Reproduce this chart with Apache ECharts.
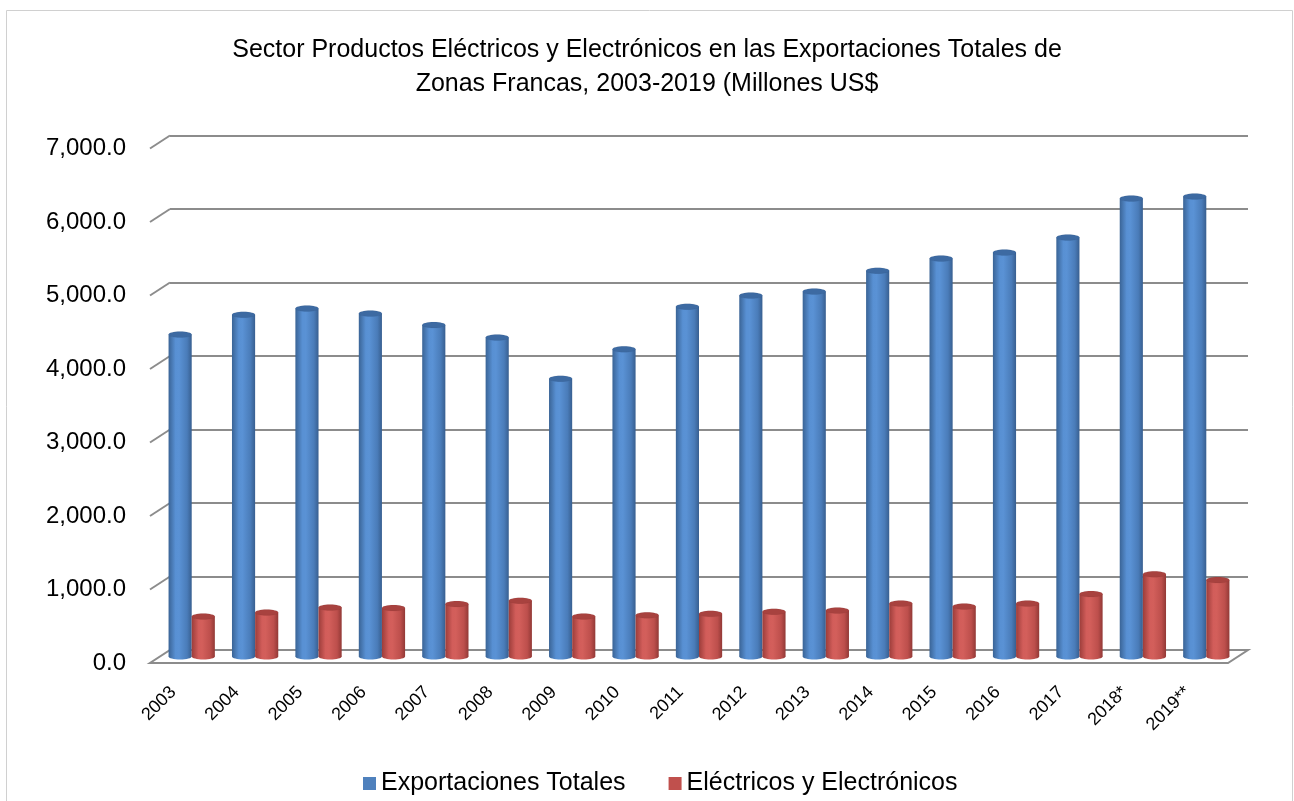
<!DOCTYPE html>
<html>
<head>
<meta charset="utf-8">
<script src="https://cdn.jsdelivr.net/npm/echarts@6/dist/echarts.min.js"></script>
<style>html,body{margin:0;padding:0;background:#fff;}#chart{width:1294px;height:801px;}</style>
</head>
<body>
<div id="chart"></div>
<script>
const categories = ['2003','2004','2005','2006','2007','2008','2009','2010','2011','2012','2013','2014','2015','2016','2017','2018*','2019**'];
const exportacionesTotales = [4380, 4650, 4735, 4665, 4510, 4340, 3780, 4180, 4760, 4910, 4965, 5250, 5415, 5495, 5700, 6230, 6260];
const electricosElectronicos = [545, 600, 665, 660, 715, 760, 545, 560, 580, 610, 625, 720, 680, 720, 850, 1120, 1040];
const yTicks = [0, 1000, 2000, 3000, 4000, 5000, 6000, 7000];
const seriesNames = ['Exportaciones Totales', 'Eléctricos y Electrónicos'];
const titleText = 'Sector Productos Eléctricos y Electrónicos en las Exportaciones Totales de\nZonas Francas, 2003-2019 (Millones US$';

const FONT = 'Liberation Sans';
const DX = -20, DY = 13; // depth offset back wall -> front plane
const GRID_BACK = {left: 170, right: 46, top: 135.5, bottom: 151};
const GRID_MID = {left: GRID_BACK.left + DX / 2, right: GRID_BACK.right - DX / 2, top: GRID_BACK.top + DY / 2, bottom: GRID_BACK.bottom - DY / 2};
const GRID_FRONT = {left: GRID_BACK.left + DX, right: GRID_BACK.right - DX, top: GRID_BACK.top + DY, bottom: GRID_BACK.bottom - DY};

const blueGrad = new echarts.graphic.LinearGradient(0, 0, 1, 0, [
  {offset: 0, color: '#3a6496'}, {offset: 0.3, color: '#5890d3'}, {offset: 0.45, color: '#5a92d5'},
  {offset: 0.8, color: '#4a7cb9'}, {offset: 1, color: '#385f90'}]);
const redGrad = new echarts.graphic.LinearGradient(0, 0, 1, 0, [
  {offset: 0, color: '#9c3d3a'}, {offset: 0.3, color: '#d25d5a'}, {offset: 0.45, color: '#d35f5b'},
  {offset: 0.8, color: '#bd4f4c'}, {offset: 1, color: '#923936'}]);

function cylinder(side, grad, topColor) {
  return function (params, api) {
    const idx = api.value(0), val = api.value(1);
    const top = api.coord([idx, val]);
    const base = api.coord([idx, 0]);
    const band = api.size([1, 0])[0];
    const w = band * 0.365;
    const x = side < 0 ? top[0] - w : top[0];
    const ry = 3;
    return {
      type: 'group',
      children: [
        {type: 'ellipse', shape: {cx: x + w / 2, cy: base[1], rx: w / 2, ry: ry}, style: {fill: grad}},
        {type: 'rect', shape: {x: x, y: top[1], width: w, height: base[1] - top[1]}, style: {fill: grad}},
        {type: 'ellipse', shape: {cx: x + w / 2, cy: top[1], rx: w / 2, ry: ry}, style: {fill: topColor, stroke: 'rgba(0,0,0,0.08)', lineWidth: 0.5}}
      ]
    };
  };
}

function decor(params, api) {
  const v = api.value(1);
  const p = api.coord([0, v]);
  const cs = params.coordSys;
  const x0 = cs.x, x1 = cs.x + cs.width;
  const children = [];
  if (v === 0) {
    children.push({type: 'polygon', shape: {points: [[x0, p[1]], [x1, p[1]], [x1 + DX, p[1] + DY], [x0 + DX, p[1] + DY]]},
      style: {fill: '#ffffff', stroke: '#8c8c8c', lineWidth: 2}});
  } else {
    children.push({type: 'line', shape: {x1: x0, y1: p[1], x2: x0 + DX, y2: p[1] + DY}, style: {stroke: '#8c8c8c', lineWidth: 2}});
  }
  return {type: 'group', children: children};
}

const chart = echarts.init(document.getElementById('chart'));
const hiddenCat = (gi) => ({type: 'category', gridIndex: gi, data: categories, show: false});
const hiddenVal = (gi) => ({type: 'value', gridIndex: gi, min: 0, max: 7000, interval: 1000, show: false});

chart.setOption({
  backgroundColor: '#ffffff',
  animation: false,
  graphic: [{type: 'rect', left: 4, top: 8, shape: {width: 1286, height: 800}, style: {fill: 'none', stroke: '#d0d0d0', lineWidth: 1}, z: -10}],
  title: {
    text: titleText, left: 'center', top: 28,
    textStyle: {fontFamily: FONT, fontSize: 25, fontWeight: 'normal', color: '#000', lineHeight: 34}
  },
  legend: {
    bottom: 0, left: 358, itemWidth: 13, itemHeight: 13, itemGap: 43, icon: 'rect',
    textStyle: {fontFamily: FONT, fontSize: 25, color: '#000'},
    data: seriesNames
  },
  grid: [
    Object.assign({}, GRID_BACK),
    Object.assign({}, GRID_MID),
    Object.assign({}, GRID_FRONT)
  ],
  xAxis: [
    hiddenCat(0), hiddenCat(1),
    {type: 'category', gridIndex: 2, data: categories,
     axisLine: {show: false}, axisTick: {show: false},
     axisLabel: {interval: 0, rotate: 45, margin: 18, padding: [0, 12, 0, 0], fontFamily: FONT, fontSize: 18, color: '#000'}}
  ],
  yAxis: [
    {type: 'value', gridIndex: 0, min: 0, max: 7000, interval: 1000,
     axisLine: {show: false}, axisTick: {show: false}, axisLabel: {show: false},
     splitLine: {show: true, lineStyle: {color: '#8c8c8c', width: 2}}},
    hiddenVal(1),
    {type: 'value', gridIndex: 2, min: 0, max: 7000, interval: 1000,
     axisLine: {show: false}, axisTick: {show: false}, splitLine: {show: false},
     axisLabel: {margin: 24, fontFamily: FONT, fontSize: 24, color: '#000',
       formatter: (v) => v.toLocaleString('en-US', {minimumFractionDigits: 1, maximumFractionDigits: 1})}}
  ],
  series: [
    {type: 'custom', name: 'decor', xAxisIndex: 0, yAxisIndex: 0, z: 1, silent: true,
     data: yTicks.map(v => [0, v]), renderItem: decor},
    {type: 'custom', name: seriesNames[0], xAxisIndex: 1, yAxisIndex: 1, z: 3,
     itemStyle: {color: '#4f81bd'},
     data: exportacionesTotales.map((v, i) => [i, v]), encode: {x: 0, y: 1},
     renderItem: cylinder(-1, blueGrad, '#3d6aa2')},
    {type: 'custom', name: seriesNames[1], xAxisIndex: 1, yAxisIndex: 1, z: 3,
     itemStyle: {color: '#c0504d'},
     data: electricosElectronicos.map((v, i) => [i, v]), encode: {x: 0, y: 1},
     renderItem: cylinder(1, redGrad, '#a8423f')}
  ]
});
</script>
</body>
</html>
